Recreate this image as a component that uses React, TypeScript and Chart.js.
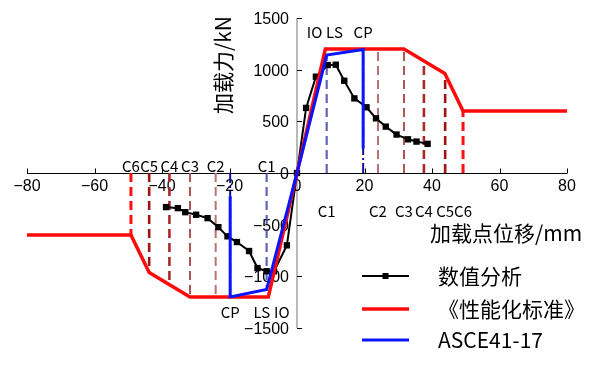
import React, { useEffect, useRef } from 'react';
import { Chart, registerables } from 'chart.js';
Chart.register(...registerables);

const CJK = '"Noto Sans CJK SC", "DejaVu Sans", sans-serif';
const NUM = '"Liberation Sans", "DejaVu Sans", sans-serif';

// ---- axis ticks ----
const X_TICKS = [-80, -60, -40, -20, 0, 20, 40, 60, 80];
const X_TICK_LABELS = ['\u221280', '\u221260', '\u221240', '\u221220', '0', '20', '40', '60', '80'];
const Y_TICKS = [-1500, -1000, -500, 0, 500, 1000, 1500];
const Y_TICK_LABELS = ['\u22121500', '\u22121000', '\u2212500', '0', '500', '1000', '1500'];

// ---- series: 数值分析 ----
const NUM_X = [-38.8, -35.3, -33.1, -29.9, -26.5, -23.3, -20.6, -17.8, -14.2, -11.7, -9.0, -6.8, -3.0, 0, 2.7, 5.6, 9.1, 11.5, 14.0, 17.0, 20.6, 23.4, 26.3, 29.5, 32.9, 35.4, 38.7];
const NUM_Y = [-330, -340, -379, -404, -437, -524, -613, -668, -755, -920, -951, -951, -700, 0, 630, 932, 1045, 1048, 893, 722, 636, 529, 449, 372, 326, 304, 282];

// ---- series: 《性能化标准》 ----
const STD_X = [-80, -49.2, -43.8, -31.7, -8.5, 0, 8.4, 31.7, 43.8, 49.2, 80];
const STD_Y = [-600, -600, -964, -1200, -1200, 0, 1200, 1200, 964, 600, 600];

// ---- series: ASCE41-17 ----
const ASCE_X = [-19.8, -19.8, -9.0, 0, 8.8, 19.6, 19.6];
const ASCE_Y = [-225, -1200, -1128, 0, 1141, 1196, 238];

// ---- performance level markers (C1..C6) ----
const C_NAMES = ['C1', 'C2', 'C3', 'C4', 'C5', 'C6'];
const C_POS_X = [8.8, 24.0, 31.7, 37.6, 43.9, 49.2];
const C_POS_Y = [1141, 1200, 1200, 1075, 964, 600];
const C_NEG_X = [-9.0, -24.1, -31.7, -37.8, -43.8, -49.2];
const C_NEG_Y = [-1128, -1200, -1200, -1075, -964, -600];
const C_COLORS = ['rgba(72,72,168,0.85)', '#b87272', '#b05454', '#a82a2a', '#a31212', '#ff1010'];
const C_WIDTHS = [2.2, 2, 2, 2.6, 2.6, 3];

// ---- ASCE CP markers ----
const CP_X = [19.6, -19.8];
const CP_Y = [1196, -1200];

// ---- text annotations (data coords) ----
const ANN_TEXT = ['IO', 'LS', 'CP', 'CP', 'LS', 'IO'];
const ANN_X = [5.2, 11.1, 19.6, -19.8, -10.4, -4.5];
const ANN_Y = [1365, 1365, 1365, -1345, -1345, -1345];
const C_TOP_Y = 66;
const C_BOT_Y = -372;

const LEGEND = ['数值分析', '《性能化标准》', 'ASCE41-17'];

function pts(xs: number[], ys: number[]) {
  return xs.map((x, i) => ({ x, y: ys[i] }));
}

export default function App() {
  const ref = useRef<HTMLCanvasElement>(null);

  useEffect(() => {
    const canvas = ref.current;
    if (!canvas) return;

    const datasets: any[] = [];
    datasets.push({
      label: 'ASCE41-17', data: pts(ASCE_X, ASCE_Y), borderColor: '#0a14ff', borderWidth: 3,
      pointRadius: 0, order: 0, tension: 0,
    });
    datasets.push({
      label: '《性能化标准》', data: pts(STD_X, STD_Y), borderColor: '#ff0a0a', borderWidth: 3.5,
      pointRadius: 0, order: 1, tension: 0,
    });
    datasets.push({
      label: '数值分析', data: pts(NUM_X, NUM_Y), borderColor: '#000', backgroundColor: '#000', borderWidth: 2,
      pointStyle: 'rect', pointRadius: 4.5, pointBorderWidth: 0, order: 2, tension: 0,
    });
    CP_X.forEach((x, i) => {
      datasets.push({
        data: [{ x, y: 0 }, { x, y: CP_Y[i] }], borderColor: '#1010a0', borderWidth: 2,
        borderDash: [10, 3, 2, 3], pointRadius: 0, order: 3,
      });
    });
    C_NAMES.forEach((_, i) => {
      datasets.push({
        data: [{ x: C_POS_X[i], y: 0 }, { x: C_POS_X[i], y: C_POS_Y[i] }], borderColor: C_COLORS[i],
        borderWidth: C_WIDTHS[i], borderDash: [9, 5], pointRadius: 0, order: 4,
      });
      datasets.push({
        data: [{ x: C_NEG_X[i], y: 0 }, { x: C_NEG_X[i], y: C_NEG_Y[i] }], borderColor: C_COLORS[i],
        borderWidth: C_WIDTHS[i], borderDash: [9, 5], pointRadius: 0, order: 4,
      });
    });

    const axesPlugin = {
      id: 'customAxes',
      beforeDatasetsDraw(chart: any) {
        const { ctx } = chart;
        const xs = chart.scales.x;
        const ys = chart.scales.y;
        const x0 = xs.getPixelForValue(0);
        const y0 = Math.round(ys.getPixelForValue(0)) + 0.5;
        ctx.save();
        ctx.strokeStyle = '#b8b8b8';
        ctx.lineWidth = 2;
        ctx.beginPath();
        ctx.moveTo(x0, ys.getPixelForValue(Y_TICKS[Y_TICKS.length - 1]));
        ctx.lineTo(x0, ys.getPixelForValue(Y_TICKS[0]));
        ctx.stroke();
        ctx.strokeStyle = '#000';
        ctx.lineWidth = 1;
        ctx.beginPath();
        ctx.moveTo(xs.getPixelForValue(X_TICKS[0]), y0);
        ctx.lineTo(xs.getPixelForValue(X_TICKS[X_TICKS.length - 1]), y0);
        ctx.stroke();
        ctx.beginPath();
        X_TICKS.forEach((v) => {
          const px = Math.round(xs.getPixelForValue(v)) + 0.5;
          ctx.moveTo(px, y0);
          ctx.lineTo(px, y0 - 5);
        });
        ctx.stroke();
        ctx.beginPath();
        Y_TICKS.forEach((v) => {
          const py = Math.round(ys.getPixelForValue(v)) + 0.5;
          ctx.moveTo(x0, py);
          ctx.lineTo(x0 + 5, py);
        });
        ctx.stroke();
        ctx.fillStyle = '#000';
        ctx.font = `16px ${NUM}`;
        ctx.textAlign = 'center';
        ctx.textBaseline = 'middle';
        X_TICKS.forEach((v, i) => {
          ctx.fillText(X_TICK_LABELS[i], xs.getPixelForValue(v), y0 + 13);
        });
        ctx.textAlign = 'right';
        Y_TICKS.forEach((v, i) => {
          ctx.fillText(Y_TICK_LABELS[i], x0 - 8, ys.getPixelForValue(v) + 1.5);
        });
        ctx.restore();
      },
      afterDraw(chart: any) {
        const { ctx } = chart;
        const xs = chart.scales.x;
        const ys = chart.scales.y;
        ctx.save();
        ctx.fillStyle = '#000';
        ctx.font = `15px ${CJK}`;
        ctx.textAlign = 'center';
        ctx.textBaseline = 'middle';
        ANN_TEXT.forEach((t, i) => {
          ctx.fillText(t, xs.getPixelForValue(ANN_X[i]), ys.getPixelForValue(ANN_Y[i]));
        });
        C_NAMES.forEach((t, i) => {
          ctx.fillText(t, xs.getPixelForValue(C_NEG_X[i]), ys.getPixelForValue(C_TOP_Y));
          ctx.fillText(t, xs.getPixelForValue(C_POS_X[i]), ys.getPixelForValue(C_BOT_Y));
        });
        ctx.font = `21px ${CJK}`;
        ctx.textAlign = 'left';
        ctx.fillText('加载点位移/mm', 430, 233);
        ctx.save();
        ctx.translate(223, 65);
        ctx.rotate(-Math.PI / 2);
        ctx.textAlign = 'center';
        ctx.fillText('加载力/kN', 0, 0);
        ctx.restore();
        const lx0 = 362, lx1 = 409, tx = 438;
        const ly = [276, 309, 340];
        const lc = ['#000', '#ff0a0a', '#0a14ff'];
        const lw = [2, 3.5, 3];
        ly.forEach((y, i) => {
          ctx.strokeStyle = lc[i];
          ctx.lineWidth = lw[i];
          ctx.beginPath();
          ctx.moveTo(lx0, y);
          ctx.lineTo(lx1, y);
          ctx.stroke();
        });
        ctx.fillStyle = '#000';
        ctx.fillRect((lx0 + lx1) / 2 - 3, ly[0] - 3, 6, 6);
        ctx.font = `21px ${CJK}`;
        ctx.textAlign = 'left';
        ctx.textBaseline = 'middle';
        LEGEND.forEach((t, i) => ctx.fillText(t, tx, ly[i]));
        ctx.restore();
      },
    };

    const chart = new Chart(canvas, {
      type: 'line',
      data: { datasets },
      options: {
        animation: false,
        responsive: false,
        events: [],
        layout: { padding: { left: 27, right: 39, top: 18, bottom: 43 } },
        plugins: { legend: { display: false }, tooltip: { enabled: false } },
        scales: {
          x: { type: 'linear', min: -80, max: 80, display: false },
          y: { type: 'linear', min: -1500, max: 1500, display: false },
        },
      },
      plugins: [axesPlugin],
    });
    return () => chart.destroy();
  }, []);

  return (
    <div style={{ position: 'absolute', left: 0, top: 0, width: 606, height: 371, background: '#fff' }}>
      <canvas ref={ref} width={606} height={371} style={{ width: 606, height: 371, display: 'block' }} />
    </div>
  );
}
